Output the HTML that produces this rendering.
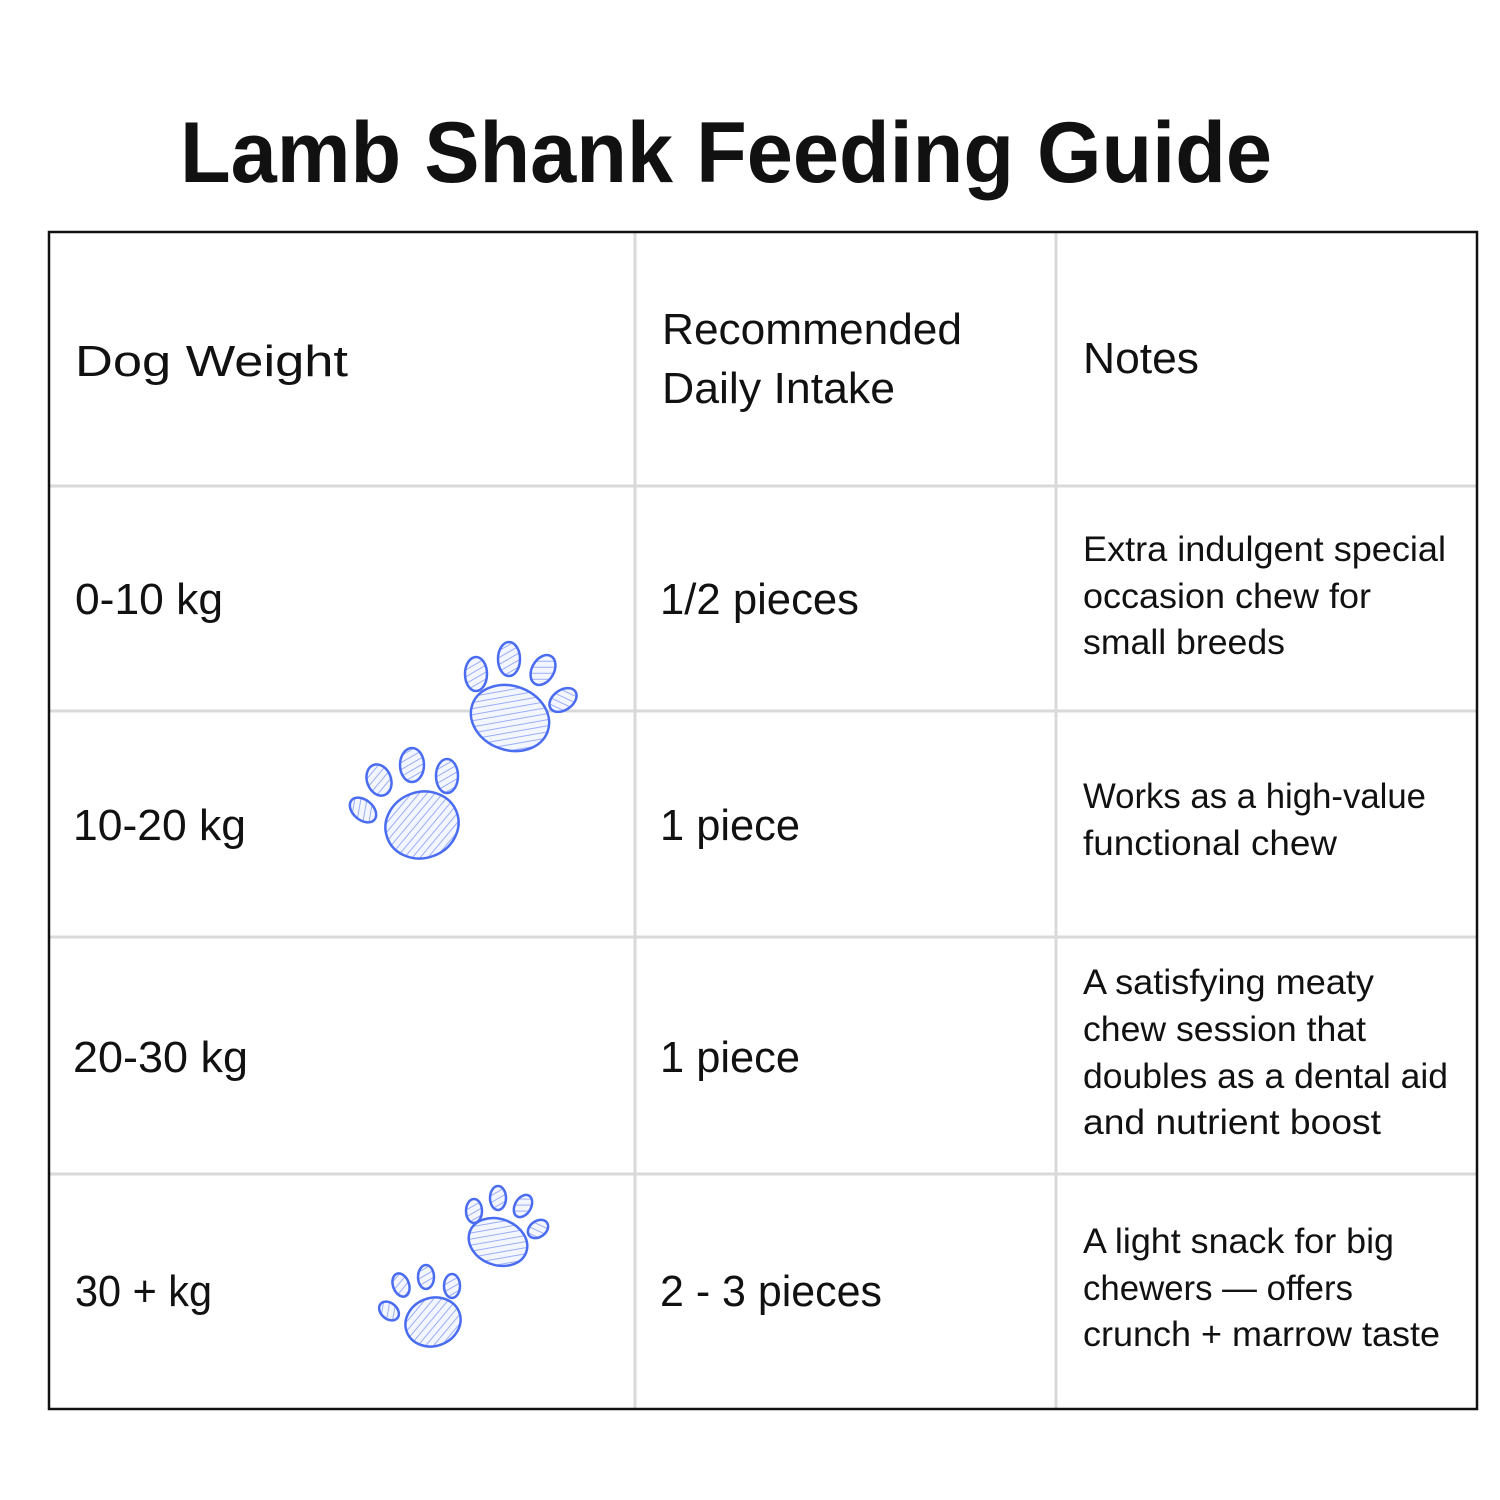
<!DOCTYPE html>
<html><head><meta charset="utf-8"><style>
html,body{margin:0;padding:0;background:#fff;}
svg{display:block;}
text{font-family:"Liberation Sans",sans-serif;fill:#111;}
</style></head><body>
<svg width="1500" height="1500" viewBox="0 0 1500 1500" xmlns="http://www.w3.org/2000/svg">
<defs>
<pattern id="h" width="6" height="6" patternUnits="userSpaceOnUse" patternTransform="rotate(-30)">
<rect width="6" height="6" fill="#f4f6ff"/>
<line x1="0" y1="3" x2="6" y2="3" stroke="#9aaef5" stroke-width="1"/>
</pattern>
</defs>
<rect width="1500" height="1500" fill="#fff"/>
<text x="180" y="182" font-size="86" font-weight="bold" textLength="1092" lengthAdjust="spacingAndGlyphs" fill="#000">Lamb Shank Feeding Guide</text>
<g stroke="#d9d9d9" stroke-width="3">
<line x1="635" y1="231" x2="635" y2="1410"/>
<line x1="1056" y1="231" x2="1056" y2="1410"/>
<line x1="48" y1="486" x2="1478" y2="486"/>
<line x1="48" y1="711" x2="1478" y2="711"/>
<line x1="48" y1="937" x2="1478" y2="937"/>
<line x1="48" y1="1174" x2="1478" y2="1174"/>
</g>
<rect x="49" y="232" width="1428" height="1177" fill="none" stroke="#111" stroke-width="2.5"/>
<g font-size="44">
<text x="75" y="376" textLength="273" lengthAdjust="spacingAndGlyphs">Dog Weight</text>
<text x="662" y="344" textLength="300" lengthAdjust="spacingAndGlyphs">Recommended</text>
<text x="662" y="403" textLength="233" lengthAdjust="spacingAndGlyphs">Daily Intake</text>
<text x="1083" y="373" textLength="116" lengthAdjust="spacingAndGlyphs">Notes</text>
<text x="75" y="614" textLength="148" lengthAdjust="spacingAndGlyphs">0-10 kg</text>
<text x="660" y="614" textLength="199" lengthAdjust="spacingAndGlyphs">1/2 pieces</text>
<text x="73" y="840" textLength="173" lengthAdjust="spacingAndGlyphs">10-20 kg</text>
<text x="660" y="840" textLength="140" lengthAdjust="spacingAndGlyphs">1 piece</text>
<text x="73" y="1072" textLength="175" lengthAdjust="spacingAndGlyphs">20-30 kg</text>
<text x="660" y="1072" textLength="140" lengthAdjust="spacingAndGlyphs">1 piece</text>
<text x="75" y="1306" textLength="137" lengthAdjust="spacingAndGlyphs">30 + kg</text>
<text x="660" y="1306" textLength="222" lengthAdjust="spacingAndGlyphs">2 - 3 pieces</text>
</g>
<g font-size="35">
<text x="1083" y="561" textLength="363" lengthAdjust="spacingAndGlyphs">Extra indulgent special</text>
<text x="1083" y="608" textLength="288" lengthAdjust="spacingAndGlyphs">occasion chew for</text>
<text x="1083" y="654" textLength="202" lengthAdjust="spacingAndGlyphs">small breeds</text>
<text x="1083" y="808" textLength="343" lengthAdjust="spacingAndGlyphs">Works as a high-value</text>
<text x="1083" y="855" textLength="254" lengthAdjust="spacingAndGlyphs">functional chew</text>
<text x="1083" y="994" textLength="291" lengthAdjust="spacingAndGlyphs">A satisfying meaty</text>
<text x="1083" y="1041" textLength="283" lengthAdjust="spacingAndGlyphs">chew session that</text>
<text x="1083" y="1088" textLength="365" lengthAdjust="spacingAndGlyphs">doubles as a dental aid</text>
<text x="1083" y="1134" textLength="298" lengthAdjust="spacingAndGlyphs">and nutrient boost</text>
<text x="1083" y="1253" textLength="311" lengthAdjust="spacingAndGlyphs">A light snack for big</text>
<text x="1083" y="1300" textLength="270" lengthAdjust="spacingAndGlyphs">chewers — offers</text>
<text x="1083" y="1346" textLength="357" lengthAdjust="spacingAndGlyphs">crunch + marrow taste</text>
</g>
<g fill="url(#h)" stroke="#4a6cf0" stroke-width="2.5">
<ellipse cx="510" cy="718" rx="40" ry="32" transform="rotate(20 510 718)"/>
<ellipse cx="476" cy="674" rx="11" ry="17"/>
<ellipse cx="509" cy="659" rx="11" ry="17"/>
<ellipse cx="543" cy="670" rx="11" ry="16" transform="rotate(30 543 670)"/>
<ellipse cx="563" cy="700" rx="10" ry="15" transform="rotate(55 563 700)"/>
<ellipse cx="422" cy="825" rx="37" ry="33" transform="rotate(-20 422 825)"/>
<ellipse cx="363" cy="810" rx="10" ry="15" transform="rotate(-50 363 810)"/>
<ellipse cx="379" cy="780" rx="12" ry="16" transform="rotate(-20 379 780)"/>
<ellipse cx="412" cy="765" rx="12" ry="17"/>
<ellipse cx="447" cy="776" rx="11" ry="17"/>
<ellipse cx="498" cy="1242" rx="30" ry="23" transform="rotate(20 498 1242)"/>
<ellipse cx="474" cy="1211" rx="8" ry="12"/>
<ellipse cx="498" cy="1198" rx="8" ry="12"/>
<ellipse cx="523" cy="1206" rx="8" ry="12" transform="rotate(30 523 1206)"/>
<ellipse cx="538" cy="1229" rx="8" ry="11" transform="rotate(55 538 1229)"/>
<ellipse cx="433" cy="1322" rx="28" ry="24" transform="rotate(-20 433 1322)"/>
<ellipse cx="389" cy="1311" rx="8" ry="11" transform="rotate(-50 389 1311)"/>
<ellipse cx="401" cy="1285" rx="8" ry="12" transform="rotate(-20 401 1285)"/>
<ellipse cx="426" cy="1277" rx="8" ry="12"/>
<ellipse cx="452" cy="1286" rx="8" ry="12"/>
</g>
</svg>
</body></html>
